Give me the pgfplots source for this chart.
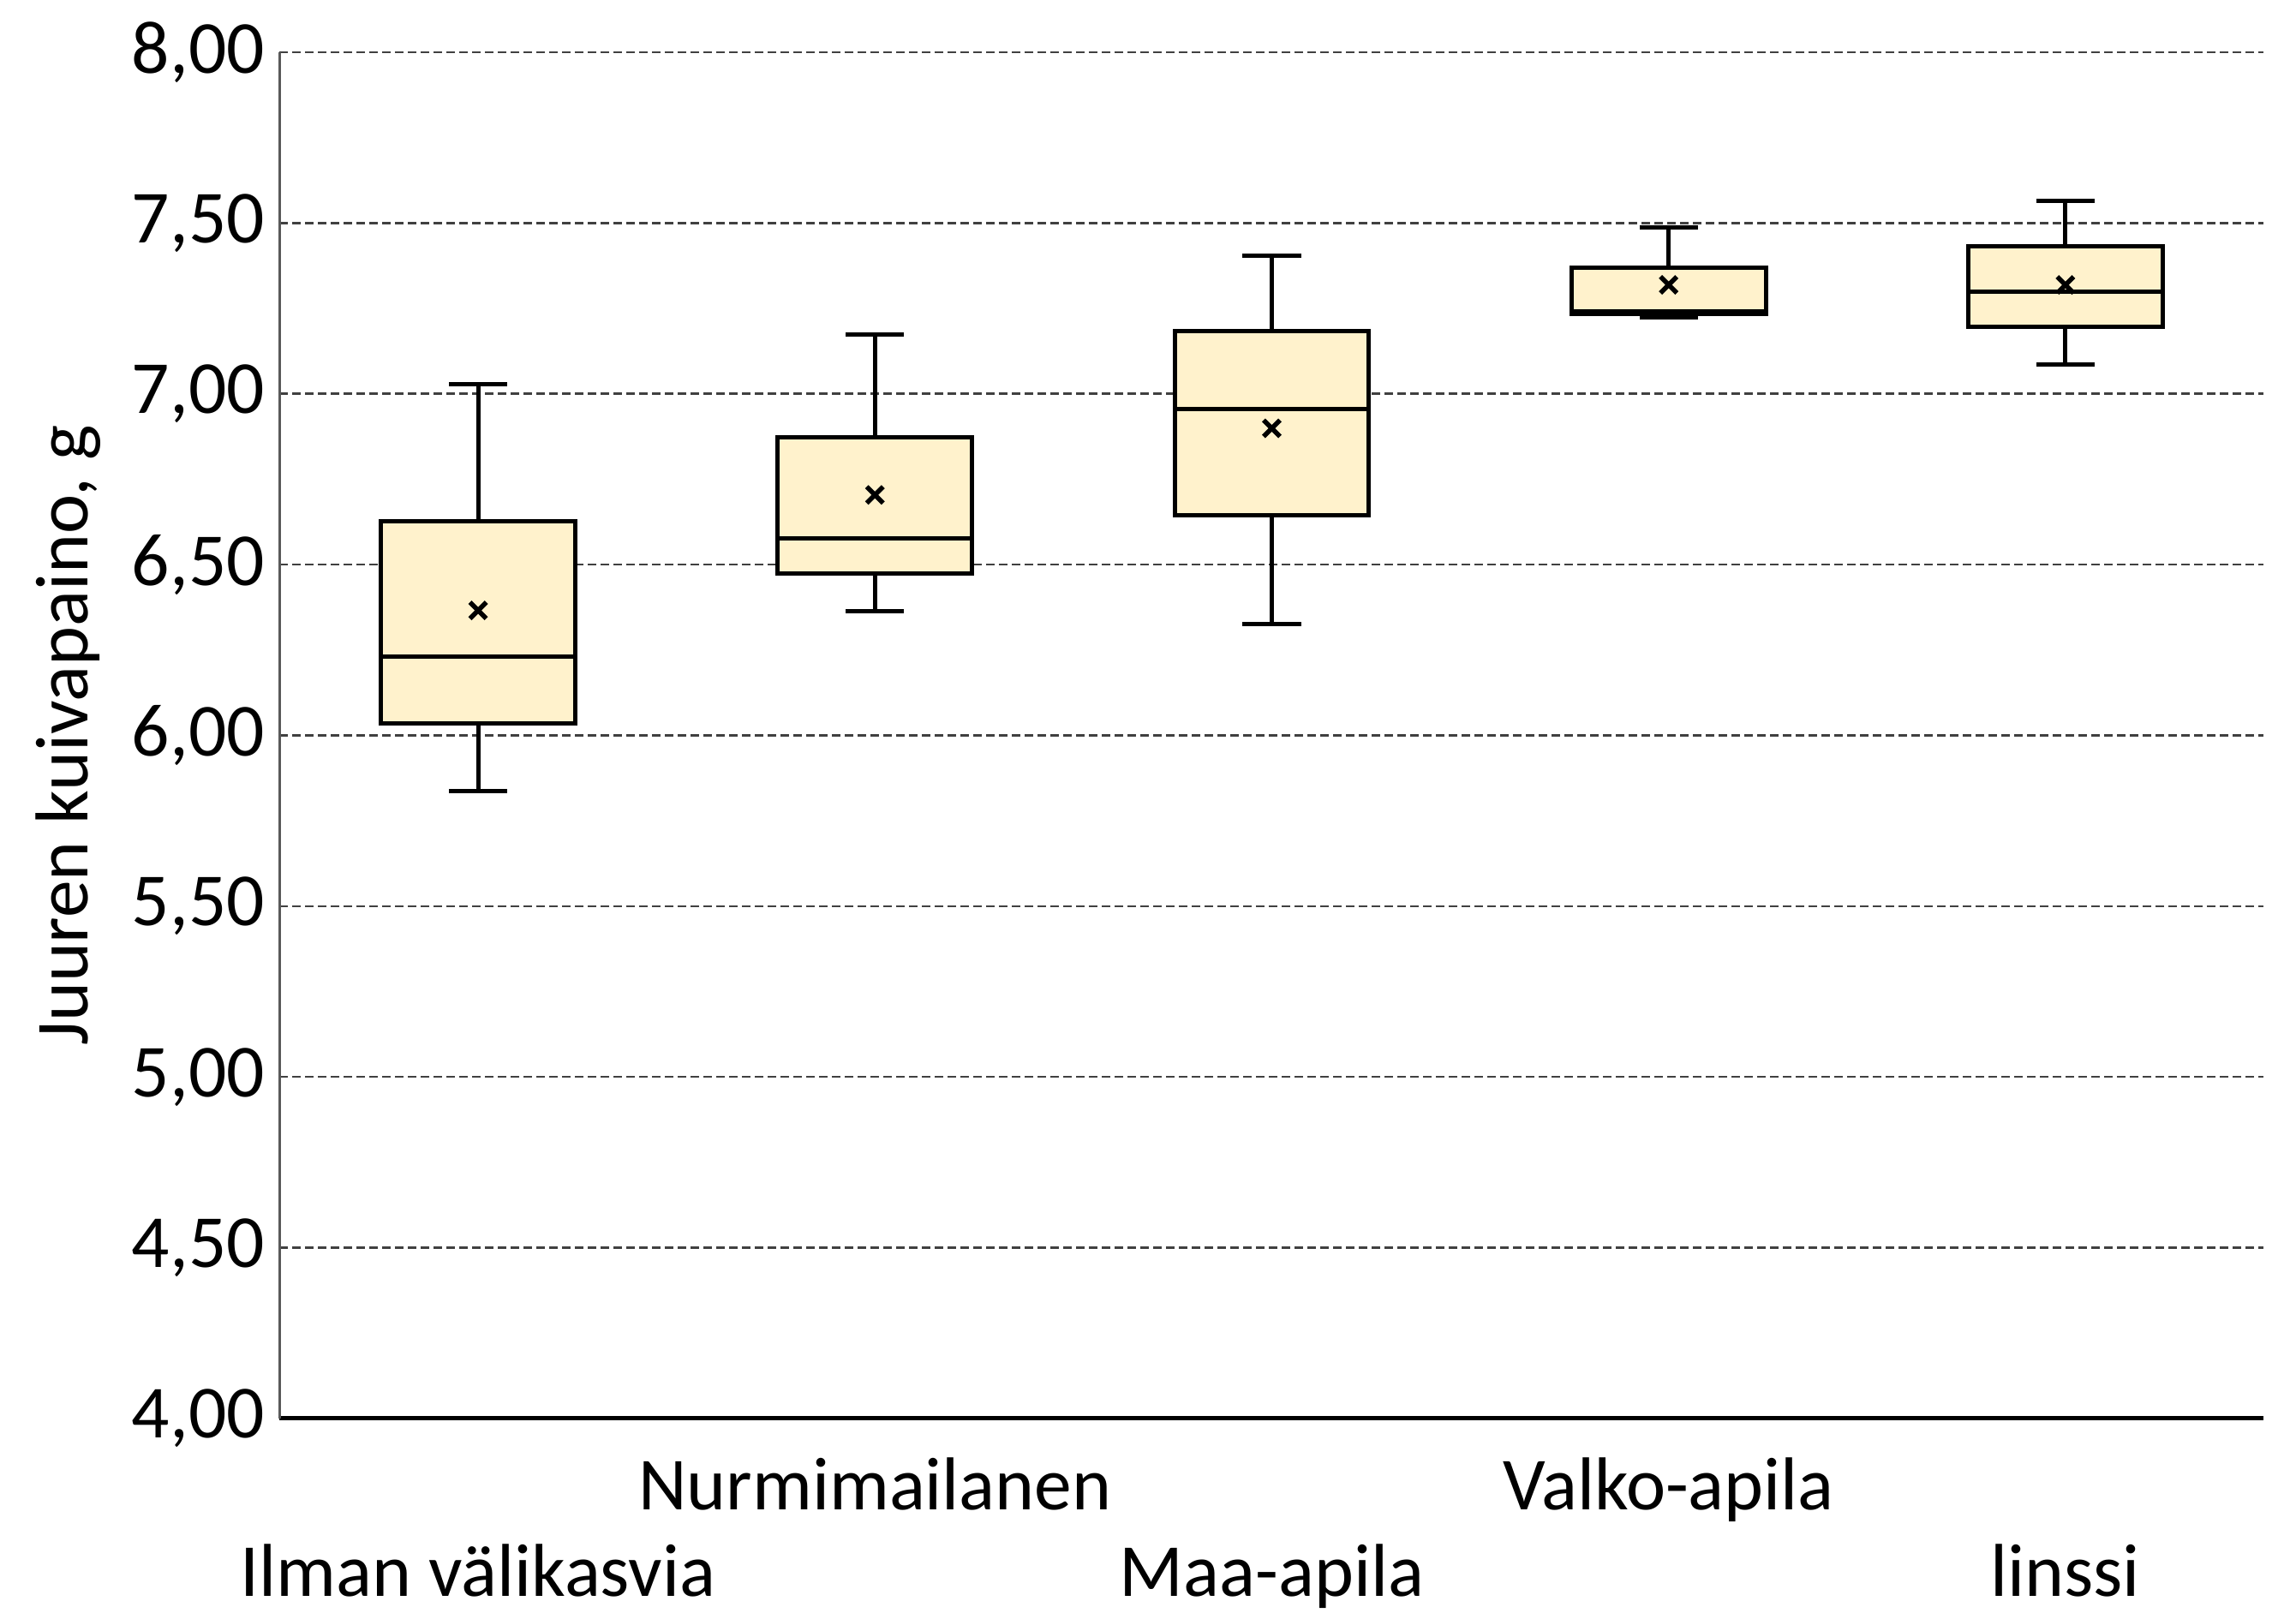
\documentclass[border=0pt]{standalone}
\usepackage{pgfplots}
\pgfplotsset{compat=1.18}
\usepackage{fontspec}
\setmainfont{Carlito}
\definecolor{boxfill}{HTML}{FFF2CC}
\definecolor{gridc}{HTML}{404040}
\pgfplotsset{
  ln/.style={black, line width=1pt, mark=none, line cap=butt},
  bx/.style={draw=black, fill=boxfill, line width=1pt, mark=none, line join=miter},
}
\begin{document}
\begin{tikzpicture}
\path[use as bounding box] (-65.3pt,-45.4pt) rectangle (470.7pt,331.2pt);
\begin{axis}[
  scale only axis, width=463.2pt, height=319pt,
  xmin=-0.5, xmax=4.5, ymin=4, ymax=8,
  ytick={4,4.5,5,5.5,6,6.5,7,7.5,8},
  xtick={0,1,2,3,4},
  xticklabels={{\raisebox{-20.2pt}{Ilman välikasvia}},Nurmimailanen,{\raisebox{-20.2pt}{Maa-apila}},Valko-apila,{\raisebox{-20.2pt}{linssi}}},
  xticklabel style={anchor=base, yshift=-21.4pt, font=\fontsize{17.5}{21}\selectfont},
  yticklabel style={font=\fontsize{17.5}{21}\selectfont,
    /pgf/number format/.cd, fixed, fixed zerofill, precision=2, use comma, assume math mode=true},
  major tick length=0pt,
  axis x line*=bottom, axis y line*=left,
  x axis line style={black, line width=1pt, -},
  y axis line style={black!65, line width=0.5pt, -},
  ymajorgrids,
  grid style={gridc, dash pattern=on 1.9pt off 1.1pt, line width=0.5pt},
  ylabel={Juuren kuivapaino, g},
  every axis y label/.style={at={(axis description cs:-0.1064,0.5)}, rotate=90, anchor=center, font=\fontsize{17.5}{21}\selectfont},
]
% Ilman välikasvia: lw 5.838, q1 6.036, med 6.230, q3 6.628, uw 7.029
\addplot[ln] coordinates {(0,6.628) (0,7.029)};
\addplot[ln] coordinates {(-0.0735,7.029) (0.0735,7.029)};
\addplot[ln] coordinates {(0,6.036) (0,5.838)};
\addplot[ln] coordinates {(-0.0735,5.838) (0.0735,5.838)};
\addplot[bx] coordinates {(-0.245,6.036) (0.245,6.036) (0.245,6.628) (-0.245,6.628)} -- cycle;
\addplot[ln] coordinates {(-0.245,6.230) (0.245,6.230)};
% Nurmimailanen: lw 6.364, q1 6.475, med 6.577, q3 6.873, uw 7.173
\addplot[ln] coordinates {(1,6.873) (1,7.173)};
\addplot[ln] coordinates {(0.9265,7.173) (1.0735,7.173)};
\addplot[ln] coordinates {(1,6.475) (1,6.364)};
\addplot[ln] coordinates {(0.9265,6.364) (1.0735,6.364)};
\addplot[bx] coordinates {(0.755,6.475) (1.245,6.475) (1.245,6.873) (0.755,6.873)} -- cycle;
\addplot[ln] coordinates {(0.755,6.577) (1.245,6.577)};
% Maa-apila: lw 6.327, q1 6.644, med 6.955, q3 7.184, uw 7.405
\addplot[ln] coordinates {(2,7.184) (2,7.405)};
\addplot[ln] coordinates {(1.9265,7.405) (2.0735,7.405)};
\addplot[ln] coordinates {(2,6.644) (2,6.327)};
\addplot[ln] coordinates {(1.9265,6.327) (2.0735,6.327)};
\addplot[bx] coordinates {(1.755,6.644) (2.245,6.644) (2.245,7.184) (1.755,7.184)} -- cycle;
\addplot[ln] coordinates {(1.755,6.955) (2.245,6.955)};
% Valko-apila: lw 7.225, q1 7.233, med 7.241, q3 7.369, uw 7.486
\addplot[ln] coordinates {(3,7.369) (3,7.486)};
\addplot[ln] coordinates {(2.9265,7.486) (3.0735,7.486)};
\addplot[ln] coordinates {(2.9265,7.225) (3.0735,7.225)};
\addplot[bx] coordinates {(2.755,7.233) (3.245,7.233) (3.245,7.369) (2.755,7.369)} -- cycle;
\addplot[ln] coordinates {(2.755,7.241) (3.245,7.241)};
% linssi: lw 7.086, q1 7.197, med 7.300, q3 7.433, uw 7.565
\addplot[ln] coordinates {(4,7.433) (4,7.565)};
\addplot[ln] coordinates {(3.9265,7.565) (4.0735,7.565)};
\addplot[ln] coordinates {(4,7.197) (4,7.086)};
\addplot[ln] coordinates {(3.9265,7.086) (4.0735,7.086)};
\addplot[bx] coordinates {(3.755,7.197) (4.245,7.197) (4.245,7.433) (3.755,7.433)} -- cycle;
\addplot[ln] coordinates {(3.755,7.300) (4.245,7.300)};
% means
\addplot[only marks, mark=x, mark size=2.7pt, line width=1.1pt, black] coordinates {(0,6.366) (1,6.704) (2,6.899) (3,7.319) (4,7.319)};
\end{axis}
\end{tikzpicture}
\end{document}
